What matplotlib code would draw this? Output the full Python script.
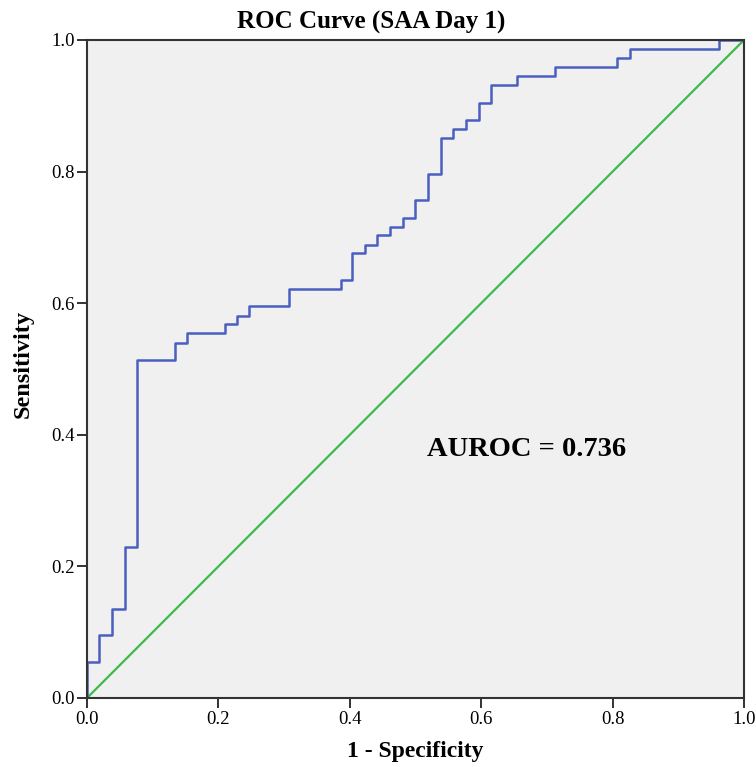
import matplotlib
matplotlib.use("Agg")
import matplotlib.pyplot as plt

# ROC breakpoints (steps-post)
fpr = [0, 0, 0.018, 0.038, 0.058, 0.076, 0.134, 0.152, 0.21, 0.228, 0.247,
       0.307, 0.387, 0.403, 0.423, 0.441, 0.461, 0.481, 0.499, 0.519, 0.539,
       0.557, 0.577, 0.597, 0.615, 0.654, 0.712, 0.807, 0.826, 0.962, 1.0]
tpr = [0, 0.054, 0.095, 0.135, 0.23, 0.514, 0.54, 0.554, 0.568, 0.581, 0.595,
       0.622, 0.635, 0.676, 0.689, 0.703, 0.716, 0.73, 0.757, 0.797, 0.851,
       0.865, 0.878, 0.905, 0.932, 0.946, 0.959, 0.973, 0.986, 1.0, 1.0]
ref_line = [0, 1]
ticks = [0.0, 0.2, 0.4, 0.6, 0.8, 1.0]
auroc = 0.736

plt.rcParams['font.family'] = ['Liberation Serif', 'DejaVu Serif']

fig = plt.figure(figsize=(7.56, 7.67), dpi=100)
ax = fig.add_axes([87 / 756, 1 - 698 / 767, 657 / 756, 658 / 767])
ax.set_facecolor('#f0f0f0')

ax.plot(ref_line, ref_line, color='#3cba4c', lw=1.6)
ax.step(fpr, tpr, where='post', color='#4a5fbf', lw=1.8)

ax.set_xlim(0, 1)
ax.set_ylim(0, 1)
ax.set_xticks(ticks)
ax.set_yticks(ticks)
ax.set_xticklabels([f"{t:.1f}" for t in ticks])
ax.set_yticklabels([f"{t:.1f}" for t in ticks])
ax.tick_params(direction='out', length=7, width=1.3, labelsize=13.5,
               color='#222222', pad=2)
for s in ax.spines.values():
    s.set_linewidth(1.5)
    s.set_color('#333333')

fig.text(371 / 756, 1 - 29 / 767, "ROC Curve (SAA Day 1)", fontsize=18,
         fontweight='bold', ha='center', va='baseline')
ax.set_xlabel("1 - Specificity", fontsize=17, fontweight='bold', labelpad=10)
ax.set_ylabel("Sensitivity", fontsize=17.5, fontweight='bold')
ax.yaxis.set_label_coords(-0.081, 0.508)

ax.text(0.517, 0.378, f"AUROC = {auroc}", fontsize=20.5, fontweight='bold',
        va='center', ha='left')

fig.savefig("out.png", dpi=100)
